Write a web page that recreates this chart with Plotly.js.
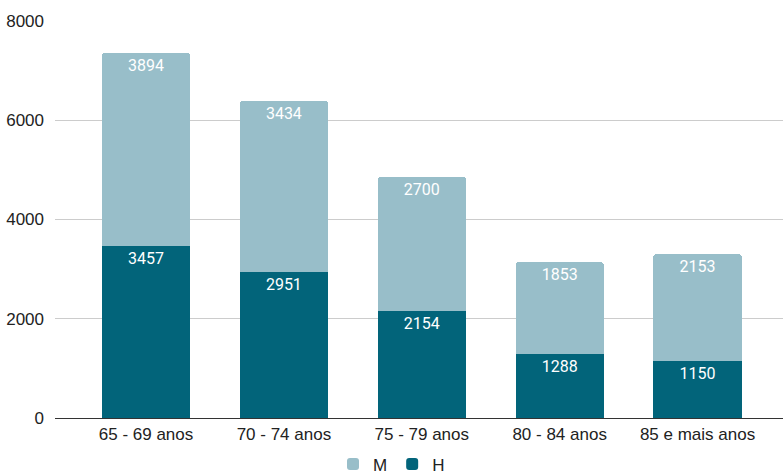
<!DOCTYPE html>
<html><head><meta charset="utf-8">
<script src="https://cdn.plot.ly/plotly-3.0.1.min.js"></script>
<style>body{margin:0;padding:0;}#chart{width:783px;height:476px;}</style>
</head><body><div id="chart"></div>
<script>
const categories = ["65 - 69 anos", "70 - 74 anos", "75 - 79 anos", "80 - 84 anos", "85 e mais anos"];
const valuesH = [3457, 2951, 2154, 1288, 1150];
const valuesM = [3894, 3434, 2700, 1853, 2153];
const yTicks = [0, 2000, 4000, 6000, 8000];

const common = {
  type: 'bar',
  x: categories,
  textposition: 'inside',
  insidetextanchor: 'end',
  textangle: 0,
  textfont: {family: 'Roboto', size: 16, color: '#ffffff'},
  hoverinfo: 'none'
};
const traces = [
  Object.assign({}, common, {name: 'H', y: valuesH, text: valuesH.map(String), marker: {color: '#02647a', cornerradius: 3}}),
  Object.assign({}, common, {name: 'M', y: valuesM, text: valuesM.map(String), marker: {color: '#98bec9', cornerradius: 3}})
];
const layout = {
  width: 783, height: 476,
  margin: {l: 55, r: 0, t: 21, b: 58},
  barmode: 'stack',
  bargap: 0.36,
  paper_bgcolor: '#ffffff', plot_bgcolor: '#ffffff',
  font: {family: 'Liberation Sans, Arial', size: 17, color: '#222222'},
  xaxis: {range: [-0.66, 4.62], showgrid: false, ticks: '', ticklabelstandoff: 4, tickfont: {size: 17, color: '#222222'}, showline: false, zeroline: false},
  yaxis: {range: [0, 8000], tickvals: yTicks, ticktext: yTicks.map(String), showgrid: true, gridcolor: '#cccccc', gridwidth: 1,
          zeroline: true, zerolinecolor: '#333333', zerolinewidth: 1, ticks: '', ticklabelstandoff: 10, tickfont: {size: 17, color: '#222222'}},
  showlegend: true,
  legend: {orientation: 'h', x: 0.5, xref: 'container', xanchor: 'center', y: 0.062, yref: 'container', yanchor: 'top', traceorder: 'reversed', font: {size: 17, color: '#222222'}}
};
Plotly.newPlot('chart', traces, layout, {displayModeBar: false, staticPlot: true});
</script></body></html>
